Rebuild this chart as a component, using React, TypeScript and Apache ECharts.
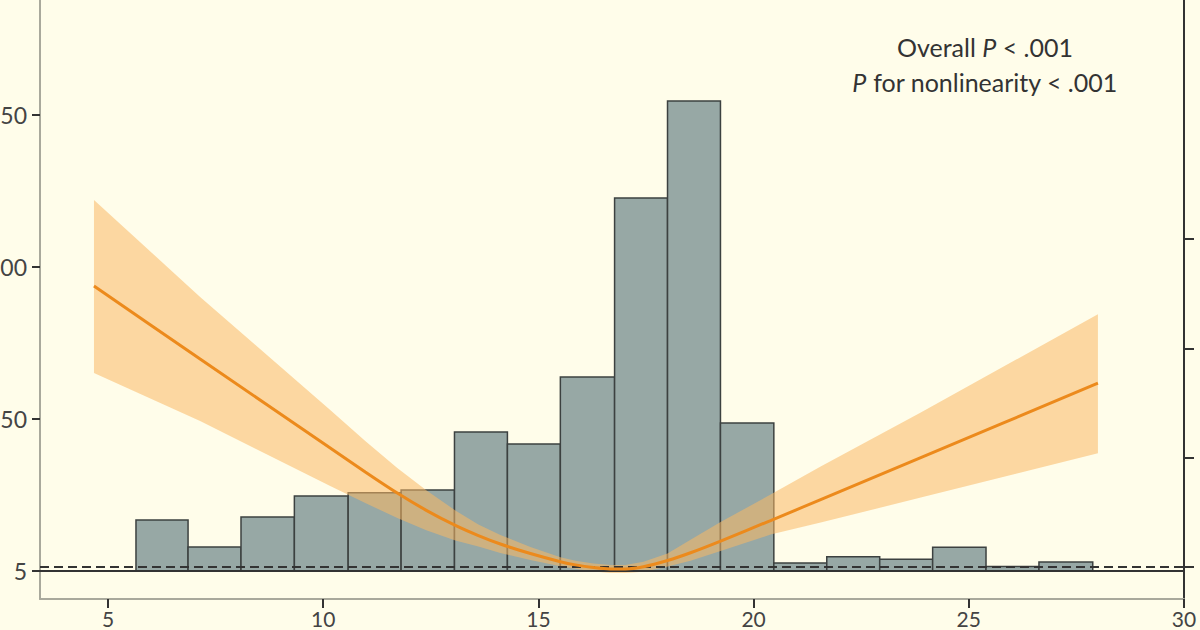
import React, { useEffect, useRef } from "react";
import * as echarts from "echarts";

// Histogram bins (x = exposure value), counts read on left axis
const binEdges = [5.65, 6.86, 8.09, 9.33, 10.58, 11.81, 13.05, 14.28, 15.51, 16.77, 18.0, 19.23, 20.47, 21.7, 22.93, 24.16, 25.4, 26.63, 27.88];
const binCounts = [16.8, 7.9, 17.8, 24.7, 25.7, 26.6, 45.7, 41.8, 63.8, 122.7, 154.6, 48.7, 2.6, 4.7, 3.85, 7.8, 1.5, 3.0];

// Spline estimate (right axis) with confidence band
const curveX = [4.674, 7.14, 10.163, 10.977, 11.721, 12.395, 13.07, 13.605, 14.116, 14.814, 15.512, 15.86, 16.279, 16.674, 17.023, 17.442, 18.0, 18.535, 19.233, 20.395, 21.558, 23.884, 28.0];
const hrCenter = [3.571, 2.903, 2.089, 1.869, 1.676, 1.518, 1.38, 1.287, 1.21, 1.123, 1.048, 1.019, 0.995, 0.982, 0.982, 1.002, 1.059, 1.13, 1.237, 1.425, 1.617, 2.001, 2.681];
const hrUpper = [4.358, 3.47, 2.436, 2.153, 1.905, 1.701, 1.517, 1.388, 1.293, 1.182, 1.09, 1.056, 1.031, 1.018, 1.018, 1.048, 1.123, 1.249, 1.411, 1.662, 1.919, 2.413, 3.312];
const hrLower = [2.775, 2.336, 1.741, 1.586, 1.447, 1.335, 1.242, 1.187, 1.128, 1.063, 1.007, 0.983, 0.958, 0.945, 0.945, 0.956, 1.004, 1.057, 1.145, 1.296, 1.406, 1.635, 2.04];

// Axes
const xTicks = [5, 10, 15, 20, 25, 30];
const leftTickValues = [0, 50, 100, 150];
const leftTickLabels = ["5", "50", "00", "50"];
const rightTickValues = [1, 2, 3, 4];
const refHR = 1;
const baseCount = 0;

const X_MIN = 3.42;
const X_MAX = 30;

const BG = "#fffdea";
const FONT = "Lato, 'Liberation Sans', sans-serif";

export default function App() {
  const ref = useRef<HTMLDivElement>(null);

  useEffect(() => {
    if (!ref.current) return;
    const chart = echarts.init(ref.current, undefined, { renderer: "svg" });

    const histData = binCounts.map((c, i) => [binEdges[i], binEdges[i + 1], c]);
    const bandData = curveX.map((x, i) => [x, hrLower[i], hrUpper[i]]);
    const centerData = curveX.map((x, i) => [x, hrCenter[i]]);
    const n = bandData.length;

    const option: any = {
      animation: false,
      backgroundColor: BG,
      textStyle: { fontFamily: FONT },
      grid: { left: 40, right: 16, top: 0, bottom: 31, containLabel: false, outerBoundsMode: "none" },
      xAxis: {
        type: "value",
        min: X_MIN,
        max: X_MAX,
        splitLine: { show: false },
        axisLine: { show: true, onZero: false, lineStyle: { color: "#a9a99c", width: 2 } },
        axisTick: { show: true, customValues: xTicks, length: 9, lineStyle: { color: "#333", width: 2 } },
        axisLabel: { customValues: xTicks, fontSize: 21, color: "#444", margin: 9, fontFamily: FONT },
      },
      yAxis: [
        {
          type: "value",
          position: "left",
          min: -9.21,
          max: 187.8,
          splitLine: { show: false },
          axisLine: { show: true, onZero: false, lineStyle: { color: "#a9a99c", width: 2 } },
          axisTick: { show: true, customValues: leftTickValues, length: 8, lineStyle: { color: "#333", width: 2 } },
          axisLabel: {
            customValues: leftTickValues,
            fontSize: 23,
            color: "#444",
            margin: 13,
            fontFamily: FONT,
            formatter: (v: number) => leftTickLabels[leftTickValues.indexOf(Math.round(v))] ?? "",
          },
        },
        {
          type: "value",
          position: "right",
          min: 0.707,
          max: 6.187,
          splitLine: { show: false },
          axisLine: { show: true, onZero: false, lineStyle: { color: "#333", width: 2 } },
          axisTick: { show: true, customValues: rightTickValues, length: 10, lineStyle: { color: "#333", width: 2 } },
          axisLabel: { show: false },
        },
      ],
      series: [
        {
          type: "custom",
          name: "hist",
          xAxisIndex: 0,
          yAxisIndex: 0,
          encode: { x: [0, 1], y: 2 },
          data: histData,
          renderItem: (params: any, api: any) => {
            const x0 = api.value(0);
            const x1 = api.value(1);
            const v = api.value(2);
            const p0 = api.coord([x0, v]);
            const p1 = api.coord([x1, baseCount]);
            return {
              type: "rect",
              shape: { x: p0[0], y: p0[1], width: p1[0] - p0[0], height: p1[1] - p0[1] },
              style: { fill: "#97a8a5", stroke: "#3c4140", lineWidth: 1.5 },
            };
          },
        },
        {
          type: "custom",
          name: "band",
          xAxisIndex: 0,
          yAxisIndex: 1,
          encode: { x: 0, y: [1, 2] },
          data: bandData,
          renderItem: (params: any, api: any) => {
            if (params.dataIndex !== 0) return null;
            const pts: number[][] = [];
            for (let j = 0; j < n; j++) pts.push(api.coord([api.value(0, j), api.value(2, j)]));
            for (let j = n - 1; j >= 0; j--) pts.push(api.coord([api.value(0, j), api.value(1, j)]));
            return {
              type: "polygon",
              shape: { points: pts },
              style: { fill: "#f9b865", opacity: 0.55 },
            };
          },
        },
        {
          type: "line",
          yAxisIndex: 0,
          data: [[X_MIN, baseCount], [X_MAX, baseCount]],
          symbol: "none",
          lineStyle: { color: "#333", width: 2 },
        },
        {
          type: "line",
          yAxisIndex: 1,
          data: [[X_MIN, refHR], [X_MAX, refHR]],
          symbol: "none",
          lineStyle: { color: "#333", width: 2, type: [9, 5] },
        },
        {
          type: "line",
          yAxisIndex: 1,
          data: centerData,
          symbol: "none",
          smooth: 0.25,
          lineStyle: { color: "#ec8a1c", width: 3 },
        },
      ],
      graphic: [
        {
          type: "text",
          x: 985,
          y: 47,
          style: {
            text: "{n|Overall }{i|P}{n| < .001}",
            align: "center",
            verticalAlign: "middle",
            rich: {
              n: { fontSize: 25, fill: "#333", fontFamily: FONT },
              i: { fontSize: 25, fill: "#333", fontFamily: FONT, fontStyle: "italic" },
            },
          },
        },
        {
          type: "text",
          x: 985,
          y: 82,
          style: {
            text: "{i|P}{n| for nonlinearity < .001}",
            align: "center",
            verticalAlign: "middle",
            rich: {
              n: { fontSize: 25, fill: "#333", fontFamily: FONT },
              i: { fontSize: 25, fill: "#333", fontFamily: FONT, fontStyle: "italic" },
            },
          },
        },
      ],
    };

    chart.setOption(option);
    return () => chart.dispose();
  }, []);

  return (
    <div
      ref={ref}
      style={{ position: "fixed", left: 0, top: 0, width: 1200, height: 630, background: BG }}
    />
  );
}
